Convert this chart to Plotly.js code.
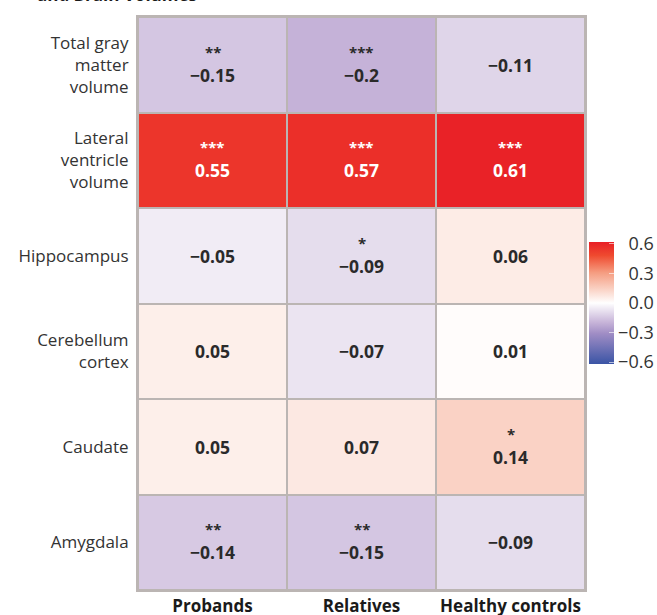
<!DOCTYPE html>
<html>
<head>
<meta charset="utf-8">
<script src="https://cdn.plot.ly/plotly-3.0.1.min.js"></script>
<style>html,body{margin:0;padding:0;background:#fff;}#chart{width:657px;height:615px;}</style>
</head>
<body>
<div id="chart"></div>
<script>
const regions = ["Total gray<br>matter<br>volume", "Lateral<br>ventricle<br>volume", "Hippocampus", "Cerebellum<br>cortex", "Caudate", "Amygdala"];
const groups = ["Probands", "Relatives", "Healthy controls"];
const probands = [-0.15, 0.55, -0.05, 0.05, 0.05, -0.14];
const relatives = [-0.2, 0.57, -0.09, -0.07, 0.07, -0.15];
const healthy = [-0.11, 0.61, 0.06, 0.01, 0.14, -0.09];
const starsProbands = ["**", "***", "", "", "", "**"];
const starsRelatives = ["***", "***", "*", "", "", "**"];
const starsHealthy = ["", "***", "", "", "*", ""];
const colorTicks = [-0.6, -0.3, 0.0, 0.3, 0.6];

const series = [probands, relatives, healthy];
const stars = [starsProbands, starsRelatives, starsHealthy];
const z = regions.map((r, i) => series.map(s => s[i]));

const fmt = v => (v < 0 ? "\u2212" : "") + Math.abs(v).toString();
// right-align colorbar labels: pad non-negative values with a figure space
const fmtTick = v => (v < 0 ? "\u2212" : "\u2007") + Math.abs(v).toFixed(1);

const annotations = [];
groups.forEach((g, j) => {
  regions.forEach((r, i) => {
    const v = series[j][i];
    const s = stars[j][i];
    const col = v > 0.4 ? "#ffffff" : "#2a2a2a";
    if (s) {
      annotations.push({x: g, y: r, xref: "x", yref: "y", text: s, showarrow: false,
        yshift: 13, font: {family: "Open Sans", size: 15, color: col, weight: 700}});
    }
    annotations.push({x: g, y: r, xref: "x", yref: "y", text: fmt(v), showarrow: false,
      yshift: s ? -10 : 0, font: {family: "Open Sans", size: 17.5, color: col, weight: 700}});
  });
});
// partially visible title at the top edge
annotations.push({
  text: "and Brain Volumes", showarrow: false,
  xref: "paper", yref: "paper",
  x: (35 - 138)/447, xanchor: "left",
  y: (590 - 8)/573, yanchor: "bottom",
  font: {family: "Open Sans", size: 17, color: "#1a1a1a", weight: 700}
});

const trace = {
  type: "heatmap",
  x: groups,
  y: regions,
  z: z,
  zmin: -0.62,
  zmax: 0.62,
  xgap: 2,
  ygap: 2,
  hoverinfo: "skip",
  colorscale: [
    [0, "#3a54a5"],
    [0.25, "#a08dc5"],
    [0.34, "#c6b3d8"],
    [0.5, "#ffffff"],
    [0.61, "#fad3c6"],
    [0.75, "#f59c80"],
    [0.89, "#ef4a2f"],
    [1, "#e81f26"]
  ],
  colorbar: {
    x: 451/447, xanchor: "left",
    y: (590 - 303)/573, yanchor: "middle",
    thickness: 25, thicknessmode: "pixels",
    len: 122, lenmode: "pixels",
    xpad: 0, ypad: 0,
    outlinewidth: 0,
    tickvals: colorTicks,
    ticktext: colorTicks.map(fmtTick),
    ticks: "inside", ticklen: 5, tickcolor: "rgba(255,255,255,0.6)", tickwidth: 1,
    ticklabelstandoff: 0,
    tickfont: {family: "Open Sans", size: 18, color: "#333333"}
  }
};

const layout = {
  width: 657, height: 615,
  margin: {l: 138, r: 72, t: 17, b: 25, autoexpand: false},
  paper_bgcolor: "#ffffff",
  plot_bgcolor: "#bbb5b3",
  xaxis: {
    type: "category",
    side: "bottom",
    showgrid: false, zeroline: false,
    showline: true, mirror: true, linewidth: 2, linecolor: "#bbb5b3",
    ticks: "",
    tickfont: {family: "Open Sans", size: 17, color: "#1a1a1a", weight: 700},
    fixedrange: true
  },
  yaxis: {
    type: "category",
    autorange: "reversed",
    showgrid: false, zeroline: false,
    showline: true, mirror: true, linewidth: 2, linecolor: "#bbb5b3",
    ticks: "outside", ticklen: 4, tickcolor: "rgba(0,0,0,0)",
    tickfont: {family: "Open Sans", size: 17, color: "#333333"},
    fixedrange: true
  },
  annotations: annotations
};

Plotly.newPlot("chart", [trace], layout, {displayModeBar: false, staticPlot: true});
</script>
</body>
</html>
